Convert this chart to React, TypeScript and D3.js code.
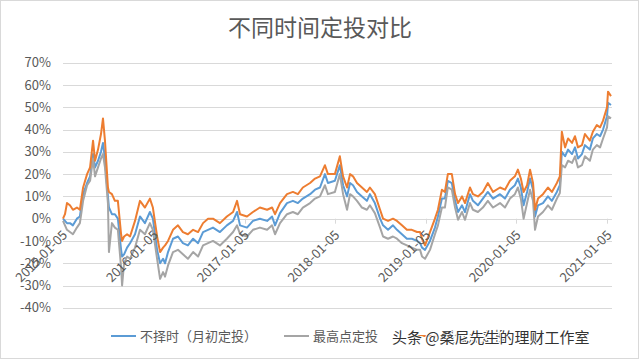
import React from "react";
import * as d3 from "d3";

const dates = [
  "2015-01-05","2015-01-13","2015-01-21","2015-02-02","2015-02-14","2015-03-02","2015-03-14","2015-03-27","2015-04-12","2015-04-24",
  "2015-05-06","2015-05-14","2015-05-26","2015-06-07","2015-06-15","2015-06-23","2015-07-05","2015-07-09","2015-07-21","2015-08-02",
  "2015-08-14","2015-08-27","2015-08-31","2015-09-08","2015-09-20","2015-10-02","2015-10-22","2015-11-11","2015-12-01","2015-12-21",
  "2016-01-02","2016-01-19","2016-01-31","2016-02-12","2016-02-20","2016-03-03","2016-03-23","2016-04-12","2016-05-02","2016-05-22",
  "2016-06-12","2016-07-02","2016-07-22","2016-08-11","2016-08-31","2016-09-28","2016-10-26","2016-11-20","2016-12-06","2016-12-18",
  "2017-01-15","2017-02-08","2017-03-08","2017-04-06","2017-04-26","2017-05-08","2017-05-28","2017-06-25","2017-07-19","2017-08-08",
  "2017-08-28","2017-09-26","2017-10-16","2017-11-05","2017-11-25","2017-12-07","2018-01-04","2018-01-24","2018-02-06","2018-02-22",
  "2018-03-06","2018-03-18","2018-04-03","2018-04-23","2018-05-13","2018-05-25","2018-06-14","2018-07-05","2018-07-17","2018-08-06",
  "2018-08-26","2018-09-11","2018-10-01","2018-10-21","2018-11-10","2018-12-01","2018-12-13","2018-12-21","2019-01-02","2019-01-22",
  "2019-02-11","2019-02-23","2019-03-11","2019-03-23","2019-04-04","2019-04-20","2019-05-03","2019-05-15","2019-05-31","2019-06-12",
  "2019-07-02","2019-07-14","2019-08-03","2019-08-23","2019-09-12","2019-10-03","2019-10-31","2019-11-20","2019-12-10","2019-12-30",
  "2020-01-11","2020-01-23","2020-02-03","2020-02-17","2020-02-29","2020-03-12","2020-03-20","2020-04-01","2020-04-21","2020-05-11",
  "2020-05-27","2020-06-16","2020-06-28","2020-07-06","2020-07-19","2020-07-31","2020-08-16","2020-08-28","2020-09-09","2020-09-25",
  "2020-10-07","2020-10-27","2020-11-08","2020-11-24","2020-12-07","2020-12-19","2021-01-04","2021-01-08","2021-01-20",
];

// 不择时（月初定投）
const monthStart = [
  0,-1,-2,-2,-3,0,1,11,16,19,
  29,23,26,30,34,27,10,5,2,2,
  0,-14,-17,-16,-13,-11,-7,1,-2,3,
  0,-14,-20,-18,-20,-15,-9,-8,-11,-12,
  -9,-11,-6,-5,-4,-6,-3,-1,3,-3,
  -4,-1,0,-1,1,-3,2.5,7,8,7,
  9,11,13,14,20,16,17,24,15,10,
  16,15,12,10,8,11,7,0,-3,-5,
  -3,-5,-7,-9,-9,-10,-11,-13,-14,-10,
  -4,1,9,9,17,16,8,3,6,3,
  11,8,6,9,12,9,11,9,13,15,
  18,14,6,12,18,13,1,6,7,10,
  8,12,15,30,28,31,29,32,27,29,
  33,31,36,38,37,40,46,52,51,
];

// 最高点定投
const highPoint = [
  -1,-3,-5,-6,-7,-4,-2,8,15,17,
  27,19,23,27,29,23,7,-15,-2,-4,
  -5,-22,-30,-20,-17,-18,-13,-5,-7,-2,
  -5,-18,-27,-24,-26,-21,-15,-14,-16,-18,
  -15,-17,-12,-11,-10,-12,-9,-6,-3,-7,
  -8,-5,-4,-5,-3,-7,-2,2,3,2,
  5,7,9,10,15,11,12,20,11,4,
  11,10,8,5,4,6,2.5,-4,-8,-9,
  -8,-9,-11,-12,-13,-14,-14,-17,-18,-14,
  -7,-3,5,5,14,13,5,-0.5,3,-0.5,
  7,4,3,5,8,5,7,5,9,11,
  14,9,0,7,13,8,-5,1,3,6,
  4,9,11.5,24,23,26,25,28,23,24,
  28,26,31,33,32,36,41,46,45,
];

// 最低点定投
const lowPoint = [
  0,2,7,6,4,5,4,14,20,23,
  35,26,31,38,45,35,14,12,11,8,
  8,-7,-10,-8,-7,-8,-1,8,5,9,
  5,-8,-15,-13,-12,-10,-5,-3,-6,-7,
  -5,-6,-2,0,0,-2,1,3,8,2,
  1,3,5,4,5,2,7,11,12,11,
  14,16,18,19,24,20,20,28,19,14,
  20,19,16,14,12,14,11,4,0,-1,
  0,-1,-3,-5,-5,-6,-6,-9,-12,-6,
  0,4,13,12,20,20,11,7,10,7,
  14,11,10,12,16,12,14,13,17,19,
  22,18,12,15,22,16,4,9,11,14,
  12,16,19,39,32,36,34,37,32,33,
  38,35,39,42,41,44,50,57,55,
];

const seriesNames = ["不择时（月初定投）", "最高点定投", "最低点定投"];
const seriesColors = ["#5B9BD5", "#A5A5A5", "#ED7D31"];
const yTickValues = [-40, -30, -20, -10, 0, 10, 20, 30, 40, 50, 60, 70];
const xTickLabels = ["2015-01-05","2016-01-05","2017-01-05","2018-01-05","2019-01-05","2020-01-05","2021-01-05"];

const title = "不同时间定投对比";
const watermark = "头条 @桑尼先生的理财工作室";

const FONT = "'Noto Sans CJK SC', 'Noto Sans', sans-serif";
const TXT = "#595959";
const GRID = "#d9d9d9";

export default function App() {
  const parse = d3.timeParse("%Y-%m-%d");
  const parsed = dates.map(d => parse(d) as Date);

  const x = d3.scaleTime()
    .domain([parsed[0], parsed[parsed.length - 1]])
    .range([63, 611]);
  const y = d3.scaleLinear().domain([-40, 70]).range([307.8, 62.7]);

  const all = [monthStart, highPoint, lowPoint];
  const line = d3.line<number>()
    .x((_, i) => x(parsed[i]))
    .y(v => y(v));

  const legendX = [111, 284, 413];

  return (
    <svg width={640} height={360} style={{ position: "absolute", left: 0, top: 0, background: "#fff" }}
      fontFamily={FONT}>
      <rect x={0.5} y={0.5} width={638} height={358} fill="#fff" stroke={GRID} />

      <text x={320} y={36} textAnchor="middle" fontSize={23} fill={TXT}>{title}</text>

      {/* gridlines + y labels */}
      {yTickValues.map(t => (
        <g key={t}>
          <line x1={63} x2={612} y1={Math.round(y(t)) + 0.5} y2={Math.round(y(t)) + 0.5} stroke={GRID} />
          <text x={51} y={y(t)} dy="0.35em" textAnchor="end" fontSize={13} fill={TXT}>{t}%</text>
        </g>
      ))}

      {/* x axis ticks */}
      {xTickLabels.map(lbl => {
        const px = Math.round(x(parse(lbl) as Date)) + 0.5;
        return <line key={lbl} x1={px} x2={px} y1={y(0)} y2={y(0) + 5} stroke={GRID} />;
      })}

      {/* series */}
      {all.map((s, k) => (
        <path key={k} d={line(s) || ""} fill="none" stroke={seriesColors[k]} strokeWidth={2}
          strokeLinejoin="round" />
      ))}

      {/* x labels */}
      {xTickLabels.map(lbl => {
        const px = x(parse(lbl) as Date);
        return (
          <text key={lbl} transform={`translate(${px + 2},${y(0) + 14}) rotate(-45)`} textAnchor="end"
            dy="0.35em" fontSize={13} fill={TXT}>{lbl}</text>
        );
      })}

      {/* legend */}
      {seriesNames.map((n, k) => (
        <g key={n} transform={`translate(${legendX[k]},336)`}>
          <line x1={0} x2={25} y1={0} y2={0} stroke={seriesColors[k]} strokeWidth={2} />
          <text x={29} y={0} dy="0.35em" fontSize={13} fill={TXT}>{n}</text>
        </g>
      ))}

      <text x={392} y={338} dy="0.35em" fontSize={15} fill="#333" stroke="#fff" strokeWidth={2}
        style={{ paintOrder: "stroke" }}>{watermark}</text>
    </svg>
  );
}
